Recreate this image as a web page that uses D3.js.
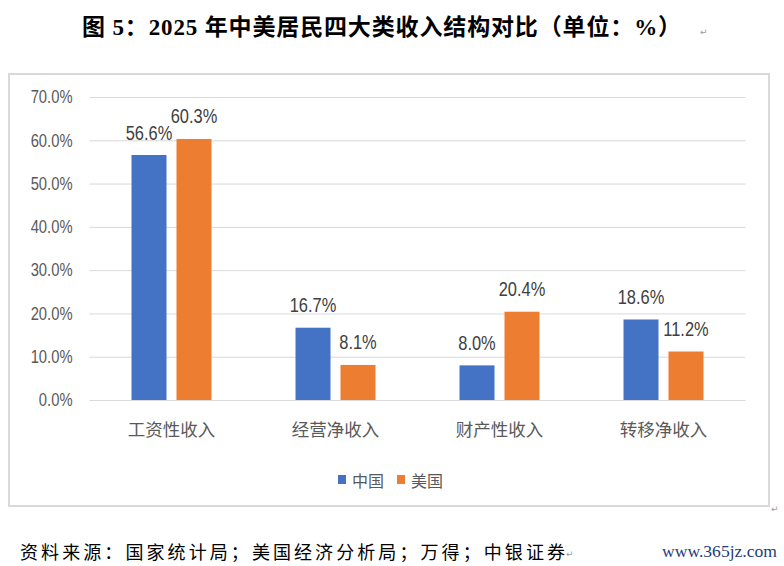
<!DOCTYPE html>
<html>
<head>
<meta charset="utf-8">
<script src="https://cdn.jsdelivr.net/npm/d3@7"></script>
<style>
  html, body { margin: 0; padding: 0; background: #fff; }
  svg { display: block; }
</style>
</head>
<body>
<svg id="chart" width="784" height="566"></svg>
<script>
// ---- data ----
const categories = ["工资性收入", "经营净收入", "财产性收入", "转移净收入"];
const seriesNames = ["中国", "美国"];
const chinaValues = [56.6, 16.7, 8.0, 18.6];
const usValues = [60.3, 8.1, 20.4, 11.2];
const yTicks = [0, 10, 20, 30, 40, 50, 60, 70];

const titleText = "图 5：2025 年中美居民四大类收入结构对比（单位：%）";
const sourceText = "资料来源：国家统计局；美国经济分析局；万得；中银证券";
const siteText = "www.365jz.com";

const colors = ["#4472C4", "#ED7D31"];
const latin = "'Liberation Sans', Arial, 'Noto Sans CJK SC', sans-serif";
const cjk = "'Noto Sans CJK SC', 'Liberation Sans', sans-serif";
const serif = "'Liberation Serif', 'Noto Sans CJK SC', serif";

const svg = d3.select("#chart");

// squeeze text horizontally (the reference uses a narrow font)
function condense(sel, k) {
  sel.each(function () {
    const w = this.getComputedTextLength();
    d3.select(this).attr("textLength", w * k).attr("lengthAdjust", "spacingAndGlyphs");
  });
}

// title
svg.append("text")
  .attr("x", 82).attr("y", 35)
  .attr("textLength", 599).attr("lengthAdjust", "spacing")
  .style("font-family", serif).style("font-weight", "bold")
  .style("font-size", "23px").attr("fill", "#000")
  .text(titleText);
svg.append("text").attr("x", 700).attr("y", 35)
  .style("font-family", "'DejaVu Sans'").style("font-size", "9px")
  .attr("fill", "#9a9a9a").text("↵");

// chart frame
svg.append("rect")
  .attr("x", 9).attr("y", 74).attr("width", 760).attr("height", 432)
  .attr("fill", "#fff").attr("stroke", "#d9d9d9").attr("stroke-width", 2);
svg.append("text").attr("x", 771).attr("y", 512)
  .style("font-family", "'DejaVu Sans'").style("font-size", "9px")
  .attr("fill", "#9a9a9a").text("↵");

// scales
const plotLeft = 89.5, plotRight = 745.5, plotTop = 97, plotBottom = 400;

const x0 = d3.scaleBand().domain(categories).range([plotLeft, plotRight]).padding(0);
const groupW = 80;
const x1 = d3.scaleBand().domain(seriesNames)
  .range([(x0.step() - groupW) / 2, (x0.step() + groupW) / 2])
  .paddingInner(0.222);
const y = d3.scaleLinear().domain([0, 70]).range([plotBottom, plotTop]);

// y axis + gridlines
const yAxis = svg.append("g")
  .attr("transform", `translate(${plotLeft},0)`)
  .call(d3.axisLeft(y).tickValues(yTicks)
    .tickSizeInner(-(plotRight - plotLeft)).tickSizeOuter(0)
    .tickPadding(17)
    .tickFormat(d => d3.format(".1f")(d) + "%"));
yAxis.select(".domain").remove();
yAxis.selectAll(".tick line").attr("stroke", "#d9d9d9").attr("stroke-width", 1);
yAxis.selectAll(".tick text")
  .style("font-family", latin).style("font-size", "18px")
  .attr("fill", "#595959")
  .call(condense, 0.82);

// x axis labels
const xAxis = svg.append("g")
  .attr("transform", `translate(0,${plotBottom})`)
  .call(d3.axisBottom(x0).tickSize(0).tickPadding(24));
xAxis.select(".domain").remove();
xAxis.selectAll(".tick text")
  .style("font-family", cjk).style("font-size", "17.5px")
  .attr("fill", "#595959");

// bars
const rows = categories.map((c, i) => ({ cat: c, vals: [chinaValues[i], usValues[i]] }));

const groups = svg.append("g").selectAll("g")
  .data(rows).join("g")
  .attr("transform", d => `translate(${x0(d.cat)},0)`);

groups.selectAll("rect")
  .data(d => d.vals.map((v, j) => ({ name: seriesNames[j], v, j })))
  .join("rect")
  .attr("x", d => x1(d.name))
  .attr("y", d => y(d.v))
  .attr("width", x1.bandwidth())
  .attr("height", d => y(0) - y(d.v))
  .attr("fill", d => colors[d.j]);

groups.selectAll("text.lbl")
  .data(d => d.vals.map((v, j) => ({ name: seriesNames[j], v, j })))
  .join("text")
  .attr("class", "lbl")
  .attr("x", d => x1(d.name) + x1.bandwidth() / 2)
  .attr("y", d => y(d.v) - 15.5)
  .attr("text-anchor", "middle")
  .style("font-family", latin).style("font-size", "20px")
  .attr("fill", "#404040")
  .text(d => d3.format(".1f")(d.v) + "%")
  .call(condense, 0.82);

// legend
const legend = svg.append("g").attr("transform", "translate(338,475)");
const li = legend.selectAll("g").data(seriesNames).join("g")
  .attr("transform", (d, i) => `translate(${i * 59},0)`);
li.append("rect").attr("width", 8).attr("height", 9).attr("fill", (d, i) => colors[i]);
li.append("text").attr("x", 14).attr("y", 12)
  .style("font-family", cjk).style("font-size", "16px")
  .attr("fill", "#595959").text(d => d);

// footer
svg.append("text")
  .attr("x", 20).attr("y", 559)
  .attr("textLength", 545).attr("lengthAdjust", "spacing")
  .style("font-family", serif).style("font-size", "18px").attr("fill", "#000")
  .text(sourceText);
svg.append("text").attr("x", 566).attr("y", 557)
  .style("font-family", "'DejaVu Sans'").style("font-size", "9px")
  .attr("fill", "#9a9a9a").text("↵");
svg.append("text")
  .attr("x", 662).attr("y", 557)
  .attr("textLength", 115).attr("lengthAdjust", "spacingAndGlyphs")
  .style("font-family", serif).style("font-size", "17px").attr("fill", "#1f3c7c")
  .text(siteText);
</script>
</body>
</html>
